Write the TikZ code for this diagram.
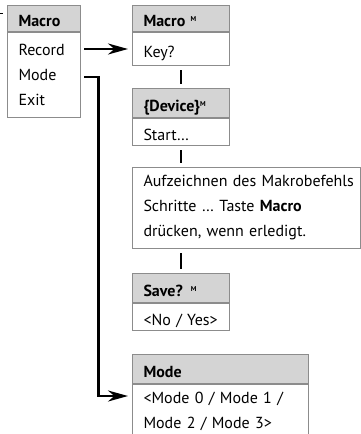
\documentclass[tikz,border=0pt]{standalone}
\usepackage{fontspec}
\setmainfont{PT Sans}
\usetikzlibrary{arrows.meta}
\usepackage{xcolor}
\definecolor{framegray}{rgb}{0.55,0.55,0.55}
\definecolor{headgray}{rgb}{0.83,0.83,0.83}
\newcommand{\boxfont}{\fontsize{16}{25}\selectfont}
\newcommand{\supM}{\raisebox{5pt}{\fontsize{7}{7}\selectfont\bfseries M}}
\tikzset{
  boxhead/.style={draw=framegray, line width=1pt, fill=headgray, anchor=north west,
    inner xsep=11pt, inner ysep=0pt, align=left, text height=16pt, text depth=0pt,
    font=\boxfont\bfseries},
  boxbody/.style={draw=framegray, line width=1pt, fill=white, anchor=north west,
    inner xsep=11pt, inner ysep=0pt, align=left, font=\boxfont},
  oneline/.style={text height=16pt, text depth=0pt},
  link/.style={line width=2.5pt, shorten <=4pt, shorten >=4pt},
  jump/.style={line width=2.5pt, -{Stealth[length=20pt,width=11pt]}}
}

\begin{document}
\begin{tikzpicture}[x=1pt,y=-1pt]
        \useasboundingbox (0,0) rectangle (361,434);
        \clip (0,0) rectangle (361,434);
        % menu
        \node[boxhead, minimum width=73pt, text width=51pt, minimum height=26pt] (menuhd) at (7,5) {Macro};
        \node[boxbody, minimum width=73pt, text width=51pt, minimum height=85pt] (menubd) at (menuhd.south west) {Record\\Mode\\Exit};
        \draw[line width=1pt] ([xshift=-9pt,yshift=-8pt]menuhd.north west) -- ++(5,0);
        % key
        \node[boxhead, minimum width=97pt, text width=75pt, minimum height=26pt] (keyhd) at (132,5) {Macro \supM};
        \node[boxbody, oneline, minimum width=97pt, text width=75pt, minimum height=33pt] (keybd) at (keyhd.south west) {Key?};
        % device
        \node[boxhead, minimum width=97pt, text width=75pt, minimum height=29pt] (devhd) at (132,88) {\{Device\}\supM};
        \node[boxbody, oneline, minimum width=97pt, text width=75pt, minimum height=27pt] (devbd) at (devhd.south west) {Start…};
        % recording
        \node[boxbody, minimum width=228pt, text width=206pt, minimum height=81pt] (recbd) at (132,167) {\mbox{Aufzeichnen des Makrobefehls}\\\mbox{Schritte … Taste \textbf{Macro}}\\\mbox{drücken, wenn erledigt.}};
        % save
        \node[boxhead, minimum width=97pt, text width=75pt, minimum height=29pt] (savehd) at (132,273) {Save? \supM};
        \node[boxbody, oneline, minimum width=97pt, text width=75pt, minimum height=27pt] (savebd) at (savehd.south west) {\mbox{<No / Yes>}};
        % mode
        \node[boxhead, minimum width=176pt, text width=154pt, minimum height=29pt] (modehd) at (132,354) {Mode};
        \node[boxbody, minimum width=176pt, text width=154pt, minimum height=54pt] (modebd) at (modehd.south west) {\mbox{<Mode 0 / Mode 1 /}\\\mbox{Mode 2 / Mode 3>}};
        % connectors
        \draw[jump] ([xshift=3pt]menubd.east |- keybd.west) -- ([xshift=-4pt]keybd.west);
        \draw[jump] ([xshift=3pt,yshift=-45pt]menubd.north east) -- ++(14.5,0) |- ([xshift=-4pt,yshift=-12pt]modebd.north west);
        \draw[link] (keybd.south) -- (devhd.north);
        \draw[link] (devbd.south) -- (devbd.south |- recbd.north);
        \draw[link] (recbd.south -| savehd.north) -- (savehd.north);
    \end{tikzpicture}
\end{document}
